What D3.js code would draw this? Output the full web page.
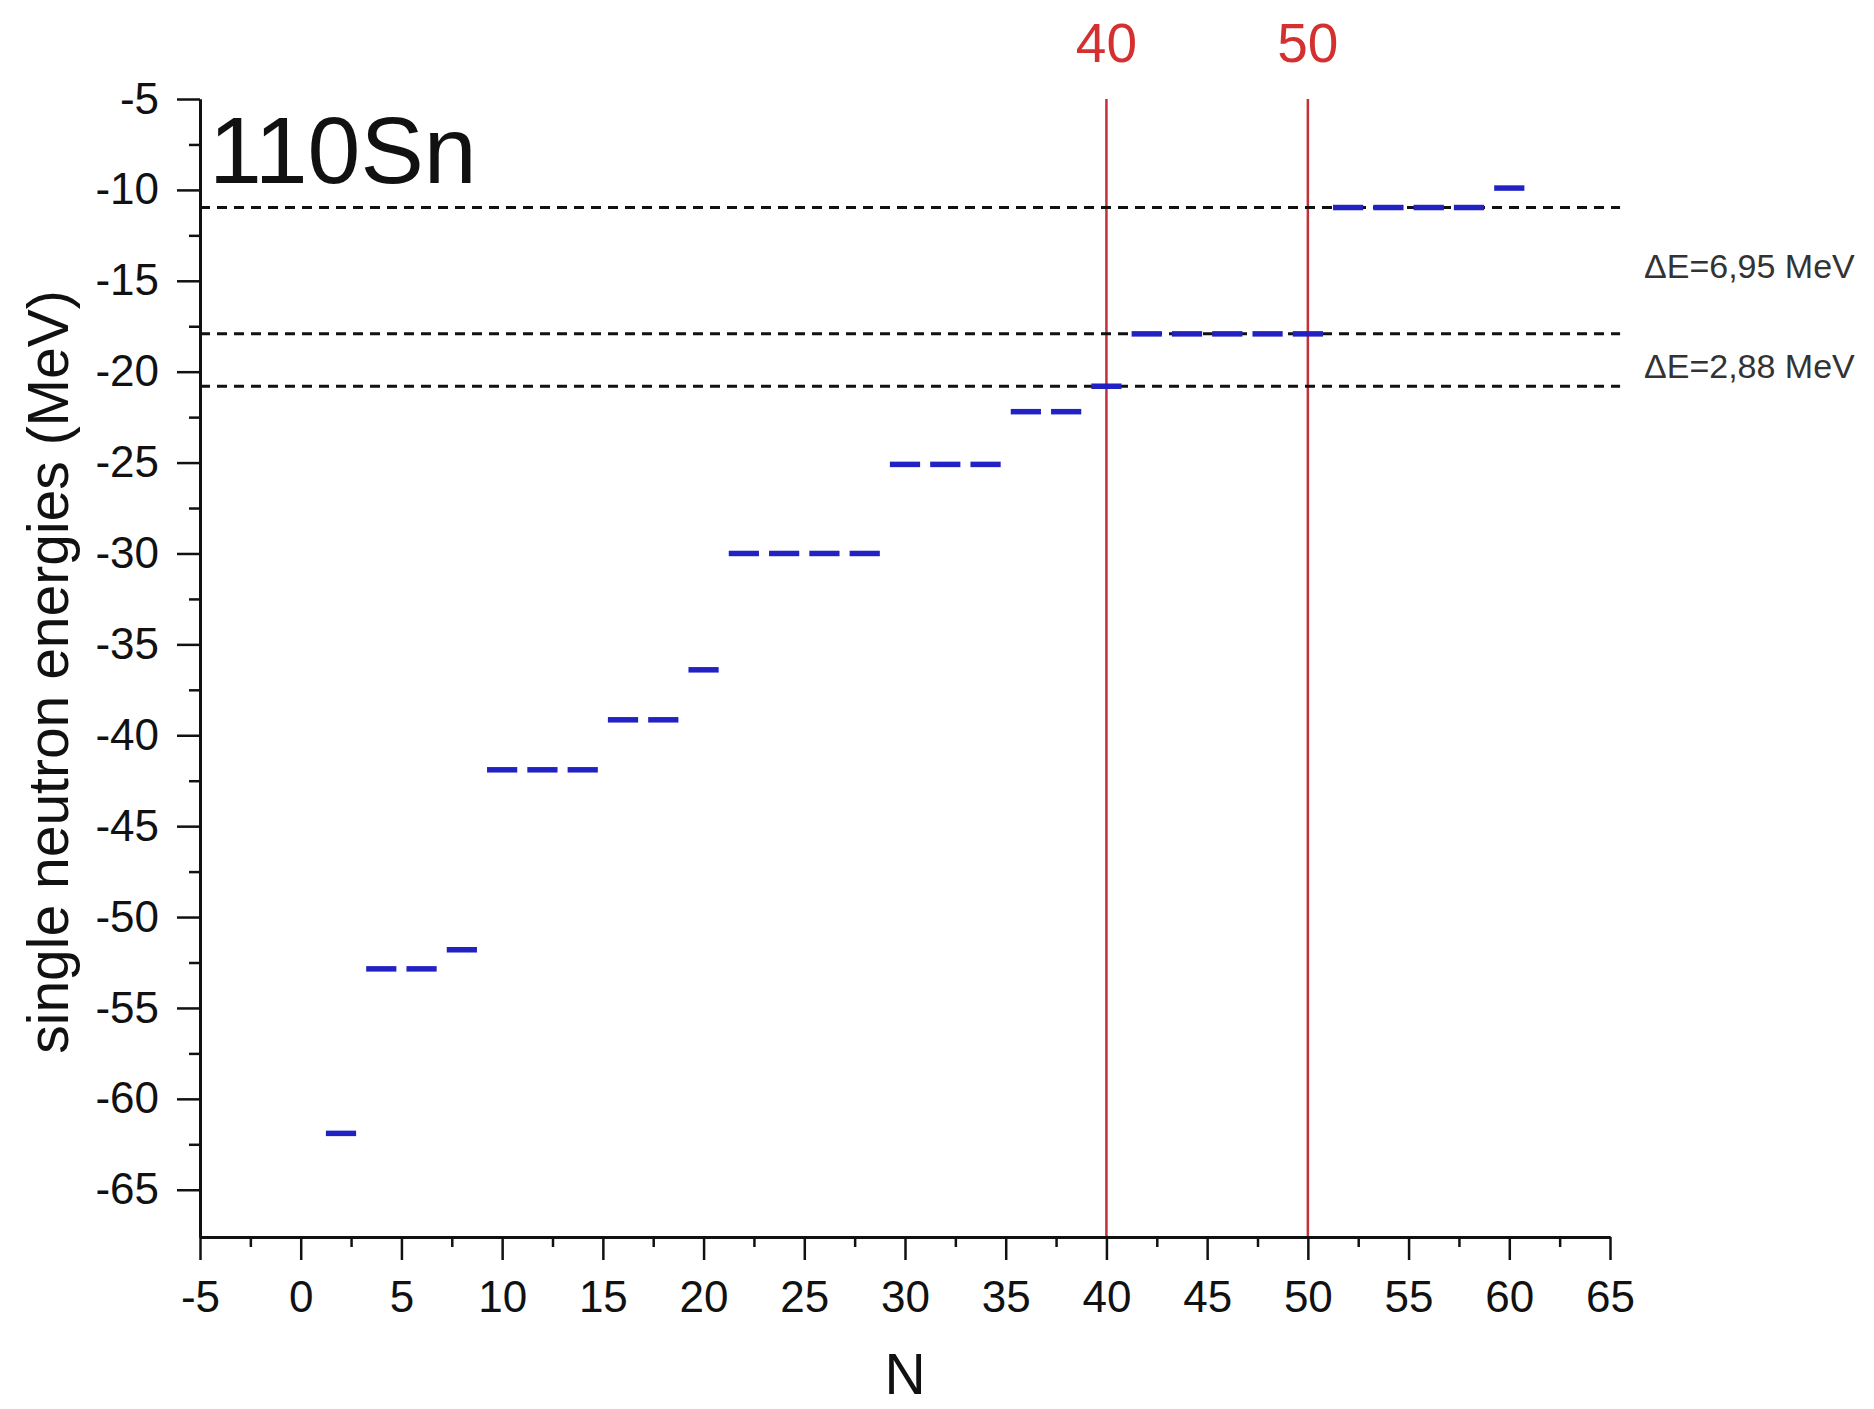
<!DOCTYPE html>
<html>
<head>
<meta charset="utf-8">
<script src="https://cdn.jsdelivr.net/npm/d3@7"></script>
<style>
    body { margin: 0; background: #fff; }
    text { font-family: "Liberation Sans", Arial, sans-serif; }
</style>
</head>
<body>
<svg id="chart"></svg>
<script>
// single neutron levels of 110Sn
const nucleus = "110Sn";
const levelEnergy = [-61.9, -52.85, -51.8, -41.9, -39.15, -36.4, -30.0, -25.1, -22.2, -20.8, -17.92, -10.97, -9.9];
// last neutron number filled by each level (levels fill in pairs)
const levelLastN = [2, 6, 8, 14, 18, 20, 28, 34, 38, 40, 50, 58, 60];

const magicN = [40, 50];
const gapEnergy = [-10.97, -17.92, -20.8];
const gapLabels = ["ΔE=6,95 MeV", "ΔE=2,88 MeV"];

const xTickValues = [-5, 0, 5, 10, 15, 20, 25, 30, 35, 40, 45, 50, 55, 60, 65];
const yTickValues = [-65, -60, -55, -50, -45, -40, -35, -30, -25, -20, -15, -10, -5];

const width = 1874, height = 1409;

const svg = d3.select("#chart")
    .attr("width", width)
    .attr("height", height);

const x = d3.scaleLinear().domain([-5, 65]).range([200, 1610]);
const y = d3.scaleLinear().domain([-67.6, -5]).range([1237, 99]);

// minor ticks sit halfway between the labelled ones
const xMinor = xTickValues.slice(1).map(d => d - 2.5);
const yMinor = yTickValues.slice(1).map(d => d - 2.5);

// plain hyphen like the original, not d3's unicode minus
const plain = d => String(d);

// magic number lines go under everything else
svg.selectAll("line.magic")
    .data(magicN)
    .join("line")
    .attr("class", "magic")
    .attr("x1", d => x(d))
    .attr("x2", d => x(d))
    .attr("y1", y(-5))
    .attr("y2", y(-67.6))
    .attr("stroke", "#c3303a")
    .attr("stroke-width", 2.5);

svg.selectAll("text.magic")
    .data(magicN)
    .join("text")
    .attr("class", "magic")
    .attr("x", d => x(d))
    .attr("y", 62)
    .attr("text-anchor", "middle")
    .attr("font-size", 55)
    .attr("fill", "#d4302f")
    .text(d => d);

// shell gap lines
svg.selectAll("line.gap")
    .data(gapEnergy)
    .join("line")
    .attr("class", "gap")
    .attr("x1", x(-5))
    .attr("x2", x(65.5))
    .attr("y1", d => y(d))
    .attr("y2", d => y(d))
    .attr("stroke", "#111")
    .attr("stroke-width", 3)
    .attr("stroke-dasharray", "10,7");

// one short dash per neutron pair
const dashes = [];
levelEnergy.forEach((e, i) => {
    const first = i === 0 ? 2 : levelLastN[i - 1] + 2;
    for (let n = first; n <= levelLastN[i]; n += 2) dashes.push({ n: n, e: e });
});

svg.selectAll("line.level")
    .data(dashes)
    .join("line")
    .attr("class", "level")
    .attr("x1", d => x(d.n - 0.75))
    .attr("x2", d => x(d.n + 0.75))
    .attr("y1", d => y(d.e))
    .attr("y2", d => y(d.e))
    .attr("stroke", "#2222c4")
    .attr("stroke-width", 5.5);

// axes
function styleAxis(g) {
    g.select(".domain").attr("stroke", "#111").attr("stroke-width", 3);
    g.selectAll(".tick line").attr("stroke", "#111").attr("stroke-width", 2.5);
    g.selectAll(".tick text").attr("font-size", 44).attr("fill", "#111")
        .attr("font-family", "Liberation Sans, Arial, sans-serif");
}

svg.append("g")
    .attr("transform", `translate(0,${y(-67.6)})`)
    .call(d3.axisBottom(x).tickValues(xMinor).tickSize(10).tickSizeOuter(0).tickFormat(""))
    .call(styleAxis);

svg.append("g")
    .attr("transform", `translate(0,${y(-67.6)})`)
    .call(d3.axisBottom(x).tickValues(xTickValues).tickSize(23).tickPadding(21).tickSizeOuter(0).tickFormat(plain))
    .call(styleAxis);

svg.append("g")
    .attr("transform", `translate(${x(-5)},0)`)
    .call(d3.axisLeft(y).tickValues(yMinor).tickSize(11).tickSizeOuter(0).tickFormat(""))
    .call(styleAxis);

svg.append("g")
    .attr("transform", `translate(${x(-5)},0)`)
    .call(d3.axisLeft(y).tickValues(yTickValues).tickSize(23).tickPadding(18).tickSizeOuter(0).tickFormat(plain))
    .call(styleAxis);

// gap annotations on the right
svg.selectAll("text.gap")
    .data(gapLabels)
    .join("text")
    .attr("class", "gap")
    .attr("x", 1644)
    .attr("y", (d, i) => i === 0 ? y(-14.85) : y(-20.35))
    .attr("font-size", 34)
    .attr("fill", "#333")
    .text(d => d);

svg.append("text")
    .attr("x", 209)
    .attr("y", 183)
    .attr("font-size", 95)
    .attr("fill", "#111")
    .text(nucleus);

svg.append("text")
    .attr("transform", "translate(68,672) rotate(-90)")
    .attr("text-anchor", "middle")
    .attr("font-size", 57)
    .attr("fill", "#111")
    .text("single neutron energies (MeV)");

svg.append("text")
    .attr("x", 905)
    .attr("y", 1394)
    .attr("text-anchor", "middle")
    .attr("font-size", 57)
    .attr("fill", "#111")
    .text("N");
</script>
</body>
</html>
